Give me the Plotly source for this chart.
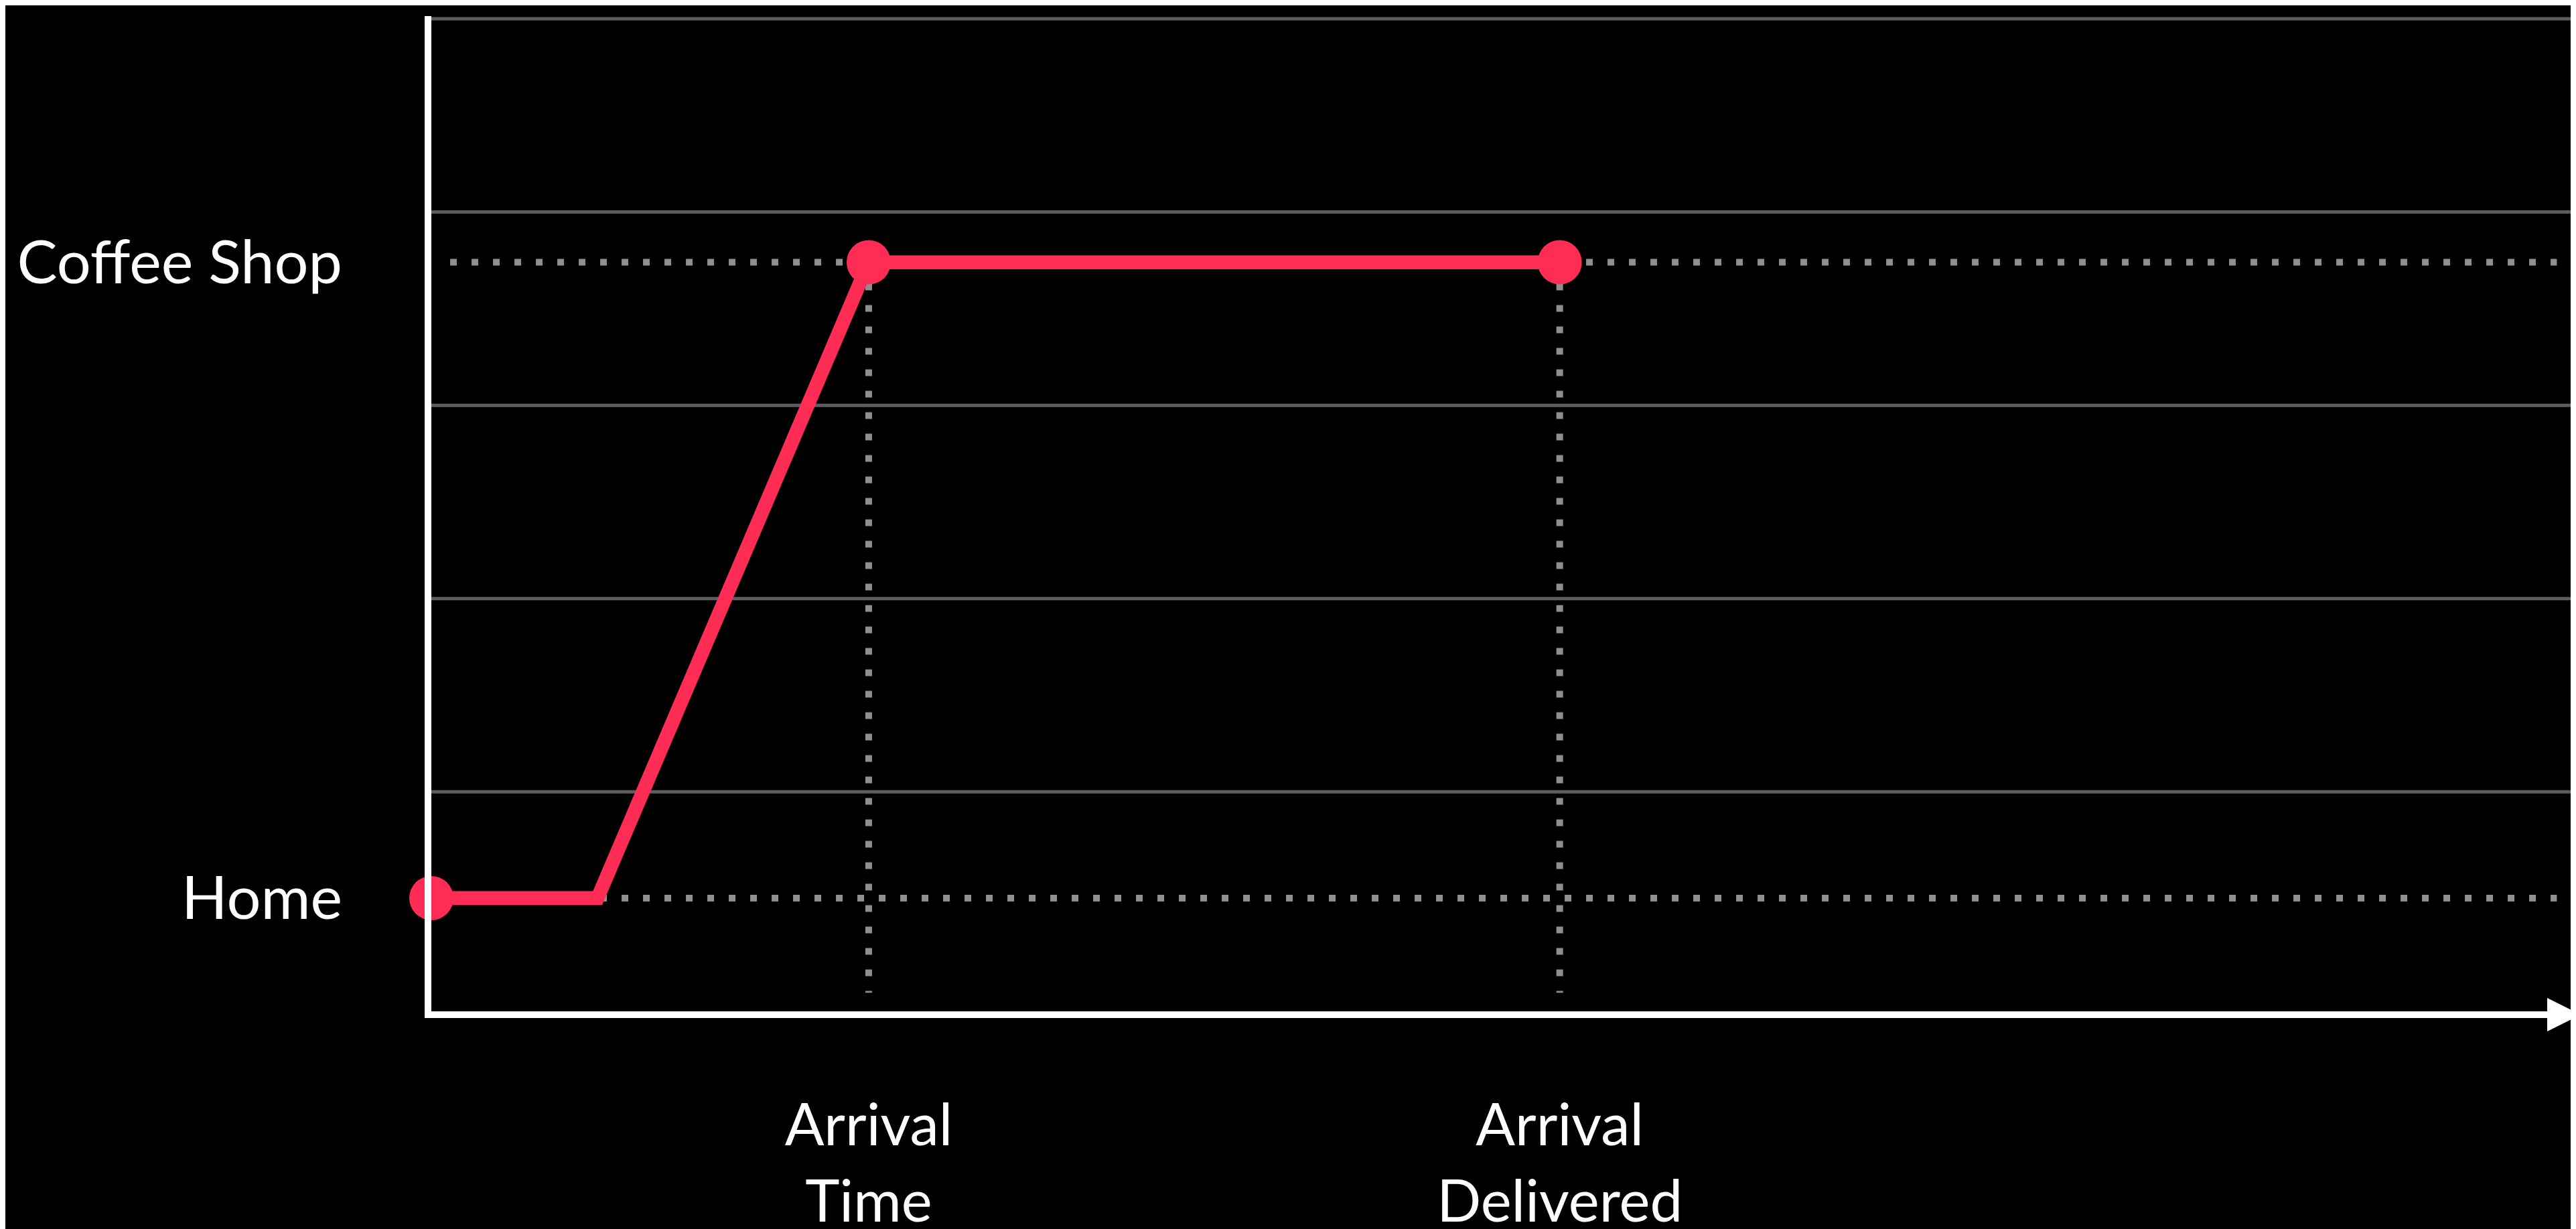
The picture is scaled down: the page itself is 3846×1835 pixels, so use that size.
import plotly.graph_objects as go

# Places on the vertical axis and where they sit
place_labels = ["Home", "Coffee Shop"]
place_levels = [0.45, 3.74]

# The trip: leave home, travel, arrive, wait until arrival is delivered
path_x = [0, 3.8, 10, 25.8]
path_y = [0.45, 0.45, 3.74, 3.74]

# Points that get a dot: start, arrival, delivery
stop_x = [0, 10, 25.8]
stop_y = [0.45, 3.74, 3.74]

# Events marked along the time axis
event_x = [10, 25.8]
event_labels = ["Arrival<br>Time", "Arrival<br>Delivered"]

# Background grid levels and guide extents
grid_levels = [1, 2, 3, 4, 5]
guide_x_span = [0.43, 48.6]
guide_bottom = -0.04

x_range = [0, 49.16]
y_range = [-0.136, 5.014]

pink = "#FF2D55"
dot_gray = "#8E8E93"
dots = "10px,22px"

fig = go.Figure()

# dotted horizontal guides at each place
for level in place_levels:
    fig.add_trace(go.Scatter(
        x=guide_x_span, y=[level, level], mode="lines",
        line=dict(color=dot_gray, width=10, dash=dots),
        hoverinfo="skip", showlegend=False,
    ))

# dotted vertical guides at each event
for ex in event_x:
    fig.add_trace(go.Scatter(
        x=[ex, ex], y=[place_levels[1], guide_bottom], mode="lines",
        line=dict(color=dot_gray, width=10, dash=dots),
        hoverinfo="skip", showlegend=False,
    ))

# the trip itself
fig.add_trace(go.Scatter(
    x=path_x, y=path_y, mode="lines",
    line=dict(color=pink, width=20.7),
    hoverinfo="skip", showlegend=False,
))
fig.add_trace(go.Scatter(
    x=stop_x, y=stop_y, mode="markers",
    marker=dict(color=pink, size=66, line=dict(width=0)),
    cliponaxis=False, hoverinfo="skip", showlegend=False,
))

# horizontal grid lines
for g in grid_levels:
    fig.add_shape(
        type="line", xref="paper", x0=0, x1=1, yref="y", y0=g, y1=g,
        line=dict(color="#5E5E5E", width=5), layer="below",
    )

# arrow head at the end of the time axis
fig.add_annotation(
    x=1, y=0, xref="paper", yref="paper", ax=-60, ay=0, text="",
    showarrow=True, arrowhead=2, arrowsize=1, arrowwidth=10,
    arrowcolor="white", yshift=-5,
)

fig.update_layout(
    width=3846, height=1835,
    margin=dict(l=636, r=0, t=16, b=323),
    paper_bgcolor="black", plot_bgcolor="black",
    font=dict(family="Lato, Open Sans, sans-serif", size=90, color="white"),
    xaxis=dict(
        range=x_range, showgrid=False, zeroline=False,
        showline=True, linecolor="white", linewidth=10,
        tickvals=event_x, ticktext=event_labels, ticks="",
        tickfont=dict(size=87),
        ticklabelstandoff=86,
    ),
    yaxis=dict(
        range=y_range, showgrid=False,
        tickvals=place_levels, ticktext=place_labels, ticks="",
        zeroline=False, showline=True, linecolor="white", linewidth=10,
        ticklabelstandoff=105,
    ),
)

fig.write_html("out.html")
